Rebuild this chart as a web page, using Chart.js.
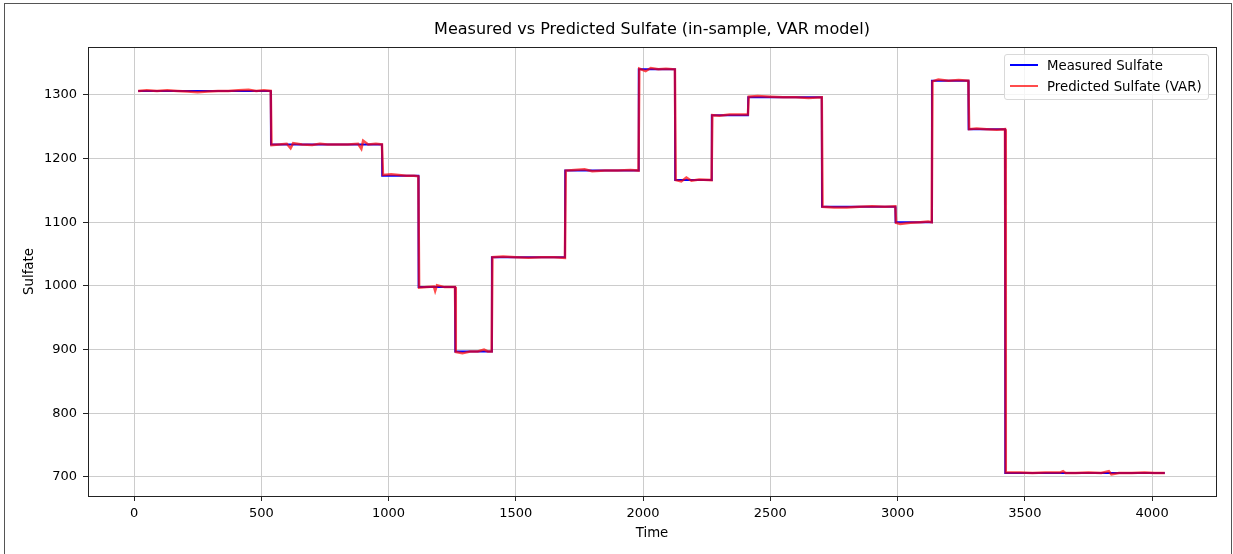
<!DOCTYPE html>
<html>
<head>
<meta charset="utf-8">
<script src="https://cdn.jsdelivr.net/npm/chart.js@4/dist/chart.umd.min.js"></script>
<style>
  html, body { margin: 0; padding: 0; background: #fff; }
  #wrap { position: relative; width: 1233px; height: 554px; overflow: hidden; }
  #frame { position: absolute; left: 4px; top: 3px; width: 1228px; height: 560px; border: 1px solid #555; box-sizing: border-box; pointer-events: none; }
  canvas { position: absolute; left: 0; top: 0; }
  #legend { position: absolute; left: 1004px; top: 54px; width: 205px; height: 46px; box-sizing: border-box;
    border: 1px solid #d9d9d9; border-radius: 3px; background: rgba(255,255,255,0.8);
    font-family: "DejaVu Sans", sans-serif; font-size: 13.3px; color: #000; }
  .item { position: absolute; left: 5px; height: 16px; line-height: 16px; white-space: nowrap; }
  .swatch { display: inline-block; width: 28px; height: 2px; vertical-align: middle; margin-right: 9px; position: relative; top: -1px; }
</style>
</head>
<body>
<div id="wrap">
  <canvas id="chart" width="1233" height="554"></canvas>
  <div id="legend">
    <div class="item" style="top:3px"><span class="swatch" style="background:#0000ff"></span>Measured Sulfate</div>
    <div class="item" style="top:24px"><span class="swatch" style="background:rgba(255,0,0,0.7)"></span>Predicted Sulfate (VAR)</div>
  </div>
  <div id="frame"></div>
</div>
<script>
// step levels of the measured series (start time of each level)
const stepStart = [16, 538, 975, 1118, 1262, 1406, 1694, 1983, 2126, 2270, 2413, 2703, 2992, 3135, 3279, 3423];
const stepLevel = [1306, 1222, 1173, 998, 897, 1045, 1181, 1340, 1166, 1268, 1296, 1124, 1100, 1322, 1246, 706];
const lastTime = 4050;

// predicted (VAR) series
const predTime = [
  16, 50, 90, 130, 170, 210, 250, 290, 330, 370, 410, 450, 480, 510, 537,
  540, 570, 600, 615, 625, 660, 700, 730, 760, 800, 840, 880, 893, 900, 920, 950, 974,
  978, 1010, 1040, 1070, 1100, 1117,
  1120, 1150, 1178, 1183, 1190, 1220, 1261,
  1264, 1290, 1320, 1350, 1375, 1390, 1405,
  1408, 1450, 1500, 1550, 1600, 1650, 1693,
  1696, 1730, 1770, 1800, 1850, 1900, 1950, 1982,
  1985, 2010, 2030, 2060, 2090, 2125,
  2128, 2150, 2170, 2190, 2220, 2269,
  2272, 2300, 2340, 2380, 2412,
  2415, 2450, 2500, 2550, 2600, 2650, 2702,
  2705, 2750, 2800, 2850, 2900, 2950, 2991,
  2994, 3010, 3050, 3090, 3120, 3134,
  3137, 3160, 3200, 3240, 3278,
  3281, 3310, 3350, 3390, 3422,
  3425, 3480, 3530, 3580, 3640, 3650, 3660, 3700, 3750, 3800, 3830, 3840, 3870, 3920, 3970, 4010, 4050
];
const predValue = [
  1306, 1307, 1306, 1307, 1306, 1305, 1304, 1305, 1306, 1306, 1307, 1308, 1306, 1307, 1306,
  1221, 1222, 1223, 1216, 1224, 1222, 1221, 1223, 1222, 1222, 1222, 1223, 1215, 1228, 1222, 1223, 1222,
  1174, 1175, 1174, 1173, 1173, 1172,
  997, 998, 999, 992, 1001, 998, 998,
  896, 894, 897, 897, 900, 897, 897,
  1045, 1046, 1045, 1044, 1045, 1045, 1044,
  1181, 1182, 1183, 1180, 1181, 1181, 1182, 1181,
  1341, 1337, 1342, 1340, 1341, 1340,
  1166, 1164, 1170, 1165, 1167, 1166,
  1268, 1267, 1269, 1269, 1269,
  1297, 1298, 1297, 1296, 1296, 1295, 1296,
  1124, 1123, 1123, 1124, 1125, 1124, 1125,
  1099, 1097, 1099, 1100, 1101, 1100,
  1321, 1324, 1322, 1323, 1322,
  1246, 1247, 1246, 1245, 1246,
  707, 707, 706, 707, 707, 709, 706, 706, 707, 706, 709, 704, 706, 706, 707, 706, 706
];

const xTicks = [0, 500, 1000, 1500, 2000, 2500, 3000, 3500, 4000];
const yTicks = [700, 800, 900, 1000, 1100, 1200, 1300];

const measured = [];
stepStart.forEach((t, i) => {
  const end = i + 1 < stepStart.length ? stepStart[i + 1] - 1 : lastTime;
  measured.push({ x: t, y: stepLevel[i] }, { x: end, y: stepLevel[i] });
});
const predicted = predTime.map((t, i) => ({ x: t, y: predValue[i] }));

const tickFont = { family: 'DejaVu Sans', size: 13 };
const labelFont = { family: 'DejaVu Sans', size: 13.3 };

// frame round the plot area
const frame = {
  id: 'frame',
  afterDraw(chart) {
    const a = chart.chartArea, ctx = chart.ctx;
    ctx.save();
    ctx.strokeStyle = '#222';
    ctx.lineWidth = 1;
    ctx.strokeRect(Math.round(a.left) + 0.5, Math.round(a.top) + 0.5, Math.round(a.right - a.left), Math.round(a.bottom - a.top));
    ctx.restore();
  }
};

new Chart(document.getElementById('chart'), {
  type: 'line',
  data: {
    datasets: [
      { label: 'Measured Sulfate', data: measured, borderColor: '#0000ff', borderWidth: 2, pointRadius: 0, tension: 0, order: 2 },
      { label: 'Predicted Sulfate (VAR)', data: predicted, borderColor: 'rgba(255,0,0,0.7)', borderWidth: 2.5, pointRadius: 0, tension: 0, order: 1 }
    ]
  },
  options: {
    responsive: false,
    animation: false,
    devicePixelRatio: 1,
    layout: { padding: { left: 0, right: 17, top: 0, bottom: 0 } },
    plugins: {
      legend: { display: false },
      tooltip: { enabled: false },
      title: {
        display: true,
        fullSize: false,
        text: 'Measured vs Predicted Sulfate (in-sample, VAR model)',
        color: '#000',
        font: { family: 'DejaVu Sans', size: 16, weight: 'normal' },
        padding: { top: 20, bottom: 7.8 }
      }
    },
    scales: {
      x: {
        type: 'linear',
        min: -181,
        max: 4251,
        afterBuildTicks: s => { s.ticks = xTicks.map(v => ({ value: v })); },
        afterFit: s => { s.height = 58; },
        ticks: { color: '#000', font: tickFont, padding: 5, maxRotation: 0, callback: v => String(v) },
        grid: { color: '#cccccc', lineWidth: 1, tickColor: '#222', tickLength: 5 },
        border: { display: false },
        title: { display: true, text: 'Time', color: '#000', font: labelFont, padding: { top: 0, bottom: 12 } }
      },
      y: {
        type: 'linear',
        min: 670,
        max: 1375,
        afterBuildTicks: s => { s.ticks = yTicks.map(v => ({ value: v })); },
        afterFit: s => { s.width = 88; },
        ticks: { color: '#000', font: tickFont, padding: 6, callback: v => String(v) },
        grid: { color: '#cccccc', lineWidth: 1, tickColor: '#222', tickLength: 5 },
        border: { display: false },
        title: { display: true, text: 'Sulfate', color: '#000', font: labelFont, padding: { top: 22, bottom: 0 } }
      }
    }
  },
  plugins: [frame]
});
</script>
</body>
</html>
